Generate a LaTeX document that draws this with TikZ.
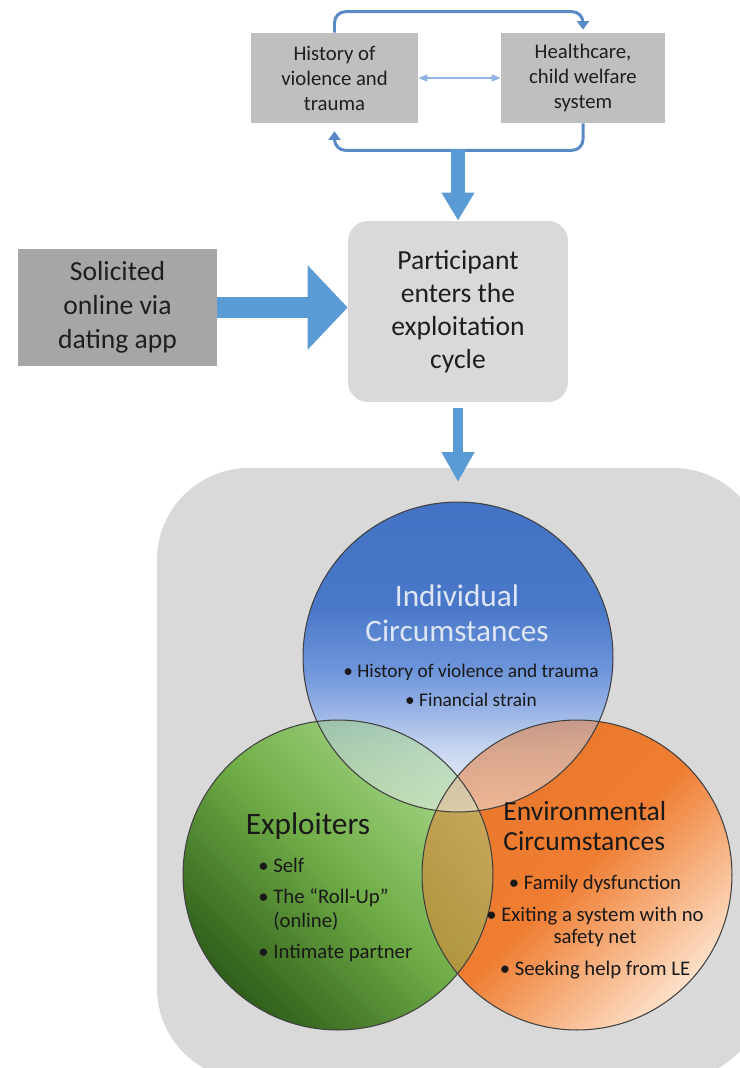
\documentclass[tikz,border=0pt]{standalone}
\usepackage{fontspec}
\setmainfont{Carlito}
\usetikzlibrary{arrows.meta,positioning,calc}
\definecolor{arrowblue}{HTML}{5B9BD5}
\definecolor{loopblue}{HTML}{5A8AC6}
\definecolor{paleblue}{HTML}{8FB4E3}
\definecolor{topgray}{HTML}{BFBFBF}
\definecolor{darkgray}{HTML}{A6A6A6}
\definecolor{backgray}{HTML}{D9D9D9}
\definecolor{inkgray}{HTML}{1E1E1E}
\definecolor{titlewhite}{HTML}{DCE6F4}
\definecolor{blueA}{HTML}{4472C4}
\definecolor{blueB}{HTML}{4A78C8}
\definecolor{blueC}{HTML}{6D95DA}
\definecolor{blueD}{HTML}{8EABE3}
\definecolor{blueE}{HTML}{C8D6F0}
\definecolor{blueF}{HTML}{F2F5FB}
\pgfdeclareverticalshading{indivfade}{100bp}{color(0bp)=(blueF); color(25bp)=(blueF); color(35bp)=(blueE); color(43bp)=(blueD); color(48bp)=(blueC); color(58bp)=(blueB); color(75bp)=(blueA); color(100bp)=(blueA)}

\begin{document}
\begin{tikzpicture}[x=0.02cm,y=-0.02cm,
    topbox/.style={fill=topgray,text=inkgray,align=center,inner sep=0pt,minimum height=1.8cm,font=\fontsize{11.8}{14.2}\selectfont},
    bigbox/.style={align=center,inner sep=0pt,text=inkgray,font=\fontsize{15.7}{18.9}\selectfont},
    loopline/.style={draw=loopblue,line width=1.7pt,rounded corners=0.22cm,-{Triangle[width=0.24cm,length=0.17cm]}},
    twoway/.style={draw=paleblue,line width=0.7pt,{Triangle[width=0.14cm,length=0.18cm]}-{Triangle[width=0.14cm,length=0.18cm]}},
    fatarrow/.style n args={3}{draw=arrowblue,line width=#1,-{Triangle[width=#2,length=#3]}},
    indivshade/.style={shading=indivfade},
    explshade/.style={top color={rgb,255:red,168;green,216;blue,138},bottom color={rgb,255:red,47;green,94;blue,26},middle color={rgb,255:red,111;green,172;blue,70},shading angle=-45},
    envshade/.style={top color={rgb,255:red,232;green,117;blue,42},bottom color={rgb,255:red,253;green,224;blue,200},middle color={rgb,255:red,239;green,126;blue,51},shading angle=45},
    ring/.style={draw=black!75,line width=0.6pt},
    vtitle/.style={inner sep=0pt,align=center,font=\fontsize{17.8}{19.9}\selectfont},
    vlist/.style={inner sep=0pt,text=black!90,font=\fontsize{11.8}{13.6}\selectfont}
  ]
  \useasboundingbox (0,0) rectangle (740,1068);
  \clip (0,0) rectangle (740,1068);

  % the cycle on top
  \node[topbox,minimum width=3.34cm] (lbox) at (334.5,78) {History of\\violence and\\trauma};
  \node[topbox,minimum width=3.28cm] (rbox) at (583,78) {Healthcare,\\child welfare\\system};
  \draw[twoway] (lbox) -- (rbox);
  \draw[loopline,shorten >=0.06cm] (lbox.north) -- ++(0,-21) -| (rbox.north);
  \draw[loopline,shorten >=0.16cm] (rbox.south) -- ++(0,27) -| (lbox.south);
  \coordinate (joint) at (458,149);

  % entry
  \node[bigbox,fill=backgray,rounded corners=0.4cm,minimum width=4.4cm,minimum height=3.62cm] (participant) at (458,311.5) {Participant\\enters the\\exploitation\\cycle};
  \node[bigbox,fill=darkgray,minimum width=3.98cm,minimum height=2.34cm,font=\fontsize{15.7}{19.3}\selectfont] (solicited) at (117.5,307.5) {Solicited\\online via\\dating app};
  \draw[fatarrow={0.27cm}{0.62cm}{0.56cm}] (joint) -- (participant.north);
  \draw[fatarrow={0.42cm}{1.64cm}{0.8cm}] (solicited.east) -- (solicited.east -| participant.west);

  % venn panel
  \fill[backgray,rounded corners=1.84cm] (157,468) rectangle (765,1080);
  \coordinate (entry) at (458,482);
  \draw[fatarrow={0.19cm}{0.62cm}{0.6cm}] ($(participant.south)+(0,6)$) -- (entry);

  \coordinate (ci) at (458,657);
  \coordinate (ce) at (338,875);
  \coordinate (cv) at (577,875);
  \shade[indivshade] (ci) circle[radius=3.1cm];
  \shade[explshade] (ce) circle[radius=3.1cm];
  \shade[envshade] (cv) circle[radius=3.1cm];
  \shade[explshade,fill opacity=0.5] (ce) circle[radius=3.1cm];
  \shade[indivshade,fill opacity=0.5] (ci) circle[radius=3.1cm];
  \foreach \c in {ci,ce,cv}
    \draw[ring] (\c) circle[radius=3.1cm];

  \node[vtitle,text=titlewhite] (indiv) at (457,613) {Individual\\Circumstances};
  \node[vlist,align=center,font=\fontsize{11}{16.5}\selectfont] (indivlist) at (471,685) {• History of violence and trauma\\• Financial strain};
  \node[vtitle,text=black!90] (expl) at (308,826) {Exploiters};
  \node[vlist,align=left,anchor=west] (expllist) at (258,910) {• Self\\[4pt]• The “Roll-Up”\\\phantom{•} (online)\\[4pt]• Intimate partner};
  \node[vtitle,align=left,anchor=west,text=black!90,font=\fontsize{15.7}{17}\selectfont] (env) at (503,826) {Environmental\\Circumstances};
  \node[vlist,align=center,font=\fontsize{11.8}{12.5}\selectfont] (envlist) at (595,927) {• Family dysfunction\\[5.7pt]• Exiting a system with no\\safety net\\[5.7pt]• Seeking help from LE};
\end{tikzpicture}
\end{document}
